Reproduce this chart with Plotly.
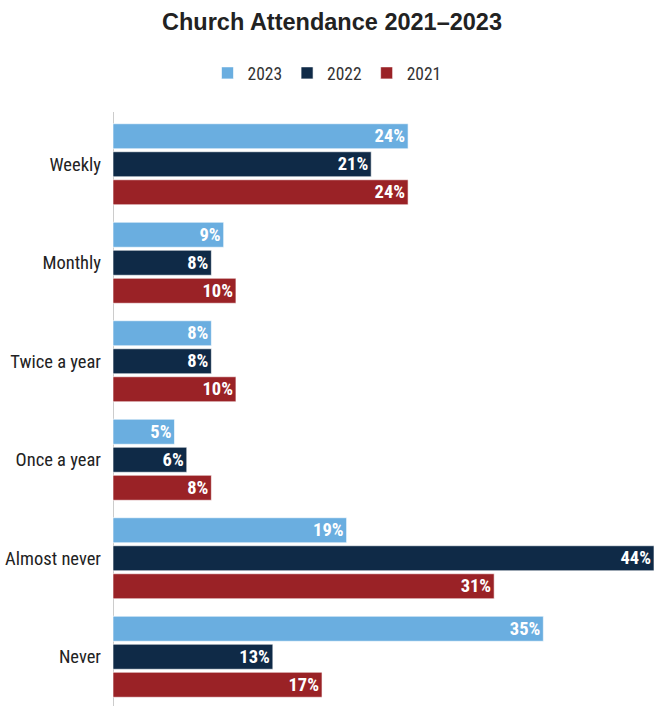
import plotly.graph_objects as go

categories = ["Weekly", "Monthly", "Twice a year", "Once a year", "Almost never", "Never"]
years = ["2023", "2022", "2021"]
values_2023 = [24, 9, 8, 5, 19, 35]
values_2022 = [21, 8, 8, 6, 44, 13]
values_2021 = [24, 10, 10, 8, 31, 17]
colors = ["#6aaee0", "#0f2a47", "#9a2226"]

series = [values_2023, values_2022, values_2021]

NARROW = "Roboto Condensed, Liberation Sans Narrow, Arial Narrow, sans-serif"

W, H = 654, 706
M_L, M_T = 113, 115
PLOT_W = W - M_L
PLOT_H = H - M_T

fig = go.Figure()
for year, vals, col in zip(years, series, colors):
    fig.add_trace(go.Bar(
        name=year,
        y=categories,
        x=vals,
        orientation="h",
        marker=dict(color=col, line=dict(color="rgba(255,255,255,0.6)", width=1)),
        text=[f"{v}%" for v in vals],
        textposition="inside",
        insidetextanchor="end",
        textangle=0,
        constraintext="none",
        textfont=dict(color="white", size=18.5, family=NARROW, weight="bold"),
        cliponaxis=False,
    ))

# vertical axis line, running slightly above the first group
fig.add_shape(
    type="line", xref="x", yref="paper",
    x0=0, x1=0, y0=0, y1=1 + 3 / PLOT_H,
    line=dict(color="#cccccc", width=2),
    layer="below",
)

fig.update_layout(
    width=W,
    height=H,
    margin=dict(l=M_L, r=0, t=M_T, b=0, autoexpand=False),
    paper_bgcolor="white",
    plot_bgcolor="white",
    barmode="group",
    bargap=0.147,
    bargroupgap=0.107,
    title=dict(
        text="<b>Church Attendance 2021–2023</b>",
        x=332 / W, xanchor="center",
        y=1 - 22 / H, yanchor="middle",
        font=dict(family="Liberation Sans, Arial, sans-serif", size=23.5, color="#222222"),
    ),
    legend=dict(
        orientation="h",
        x=(327 - M_L) / PLOT_W, xanchor="center",
        y=(H - 73) / PLOT_H, yanchor="middle",
        font=dict(family=NARROW, size=17.5, color="#333333"),
        itemwidth=30,
        traceorder="normal",
    ),
    xaxis=dict(
        range=[0, 44],
        visible=False,
        showgrid=False,
        zeroline=False,
        automargin=False,
    ),
    yaxis=dict(
        autorange="reversed",
        showgrid=False,
        zeroline=False,
        showline=False,
        ticks="",
        automargin=False,
        ticklabelstandoff=11,
        tickfont=dict(family=NARROW, size=18.5, color="#222222"),
    ),
    showlegend=True,
)

fig.write_html("out.html")
